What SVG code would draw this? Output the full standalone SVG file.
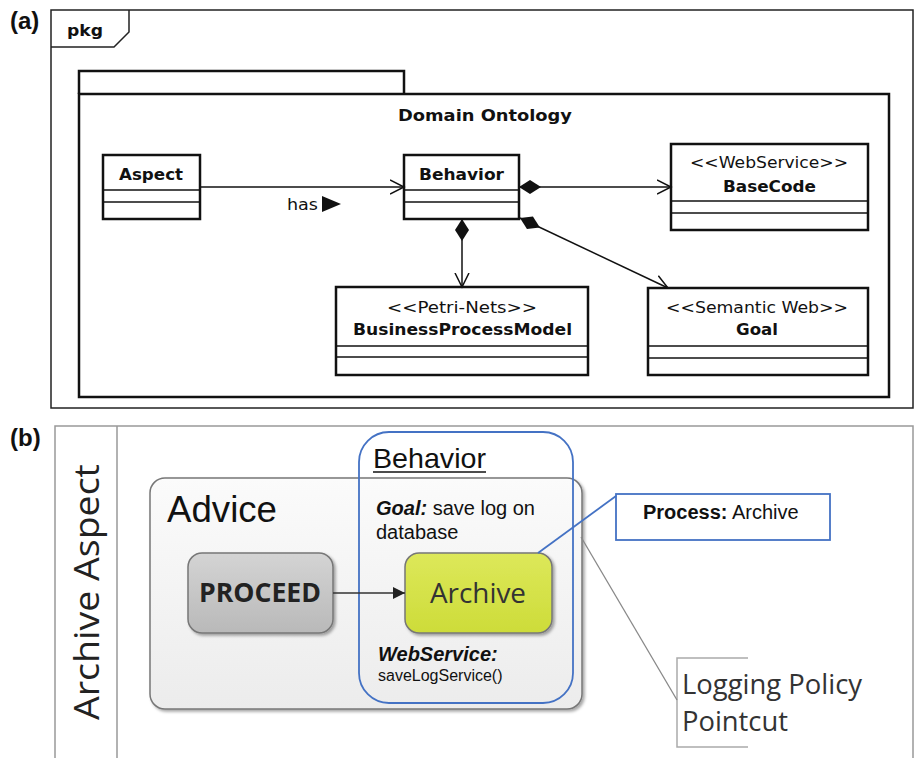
<svg xmlns="http://www.w3.org/2000/svg" width="916" height="758" viewBox="0 0 916 758">
  <defs>
    <style>
      .uml { font-family: "DejaVu Sans", "Liberation Sans", sans-serif; fill: #111; font-size: 16px; }
      .b { font-weight: bold; }
      .box { fill: #fff; stroke: #111; stroke-width: 2.5; }
      .div { stroke: #111; stroke-width: 1.5; }
      .conn { fill: none; stroke: #111; stroke-width: 1.5; }
      .frame { fill: none; stroke: #222; stroke-width: 1.5; }
      .arial { font-family: "Liberation Sans", Arial, sans-serif; fill: #111; }
      .cal { font-family: "Open Sans", "Liberation Sans", sans-serif; }
      .panel { font-family: "Liberation Sans", Arial, sans-serif; font-weight: bold; font-size: 24px; fill: #111; }
    </style>
    <marker id="open" markerWidth="16" markerHeight="16" refX="14" refY="8" orient="auto" markerUnits="userSpaceOnUse">
      <path d="M0,1 L14,8 L0,15" fill="none" stroke="#111" stroke-width="1.5"/>
    </marker>
    <marker id="diamond" markerWidth="24" markerHeight="16" refX="0" refY="8" orient="auto" markerUnits="userSpaceOnUse">
      <path d="M0,8 L11,1 L22,8 L11,15 Z" fill="#111"/>
    </marker>
    <marker id="solid" markerWidth="14" markerHeight="12" refX="12" refY="6" orient="auto" markerUnits="userSpaceOnUse">
      <path d="M0,0 L12,6 L0,12 Z" fill="#222"/>
    </marker>
    <linearGradient id="adviceFill" x1="0" y1="0" x2="0" y2="1">
      <stop offset="0" stop-color="#fbfbfb"/>
      <stop offset="1" stop-color="#ececec"/>
    </linearGradient>
    <linearGradient id="proceedFill" x1="0" y1="0" x2="0" y2="1">
      <stop offset="0" stop-color="#d4d4d4"/>
      <stop offset="1" stop-color="#b9b9b9"/>
    </linearGradient>
    <linearGradient id="archiveFill" x1="0" y1="0" x2="0" y2="1">
      <stop offset="0" stop-color="#dde85a"/>
      <stop offset="1" stop-color="#cddc39"/>
    </linearGradient>
    <filter id="shadow" x="-10%" y="-10%" width="125%" height="125%">
      <feDropShadow dx="2" dy="2" stdDeviation="1.5" flood-color="#000" flood-opacity="0.35"/>
    </filter>
  </defs>

  <rect width="916" height="758" fill="#fff"/>

  <!-- ===== Panel (a): UML package diagram ===== -->
  <text class="panel" x="10" y="29">(a)</text>
  <g id="pkg-frame">
    <rect class="frame" x="51" y="10" width="862" height="398"/>
    <path class="frame" d="M51,47 L114,47 L129,32 L129,10"/>
    <text class="uml b" x="67" y="36" font-size="15" textLength="36" lengthAdjust="spacingAndGlyphs">pkg</text>
  </g>

  <g id="domain-ontology">
    <path d="M79,94 L79,71 L404,71 L404,94" fill="none" stroke="#111" stroke-width="2.5"/>
    <rect x="79" y="94" width="810" height="303" fill="none" stroke="#111" stroke-width="2.5"/>
    <text class="uml b" x="398" y="121" textLength="174" lengthAdjust="spacingAndGlyphs">Domain Ontology</text>
  </g>

  <g id="aspect">
    <rect class="box" x="103" y="155" width="97" height="64"/>
    <line class="div" x1="103" y1="190" x2="200" y2="190"/>
    <line class="div" x1="103" y1="202" x2="200" y2="202"/>
    <text class="uml b" x="119" y="180" textLength="64" lengthAdjust="spacingAndGlyphs">Aspect</text>
  </g>

  <g id="behavior">
    <rect class="box" x="404" y="155" width="115" height="64"/>
    <line class="div" x1="404" y1="190" x2="519" y2="190"/>
    <line class="div" x1="404" y1="202" x2="519" y2="202"/>
    <text class="uml b" x="419" y="180" textLength="85" lengthAdjust="spacingAndGlyphs">Behavior</text>
  </g>

  <g id="basecode">
    <rect class="box" x="671" y="144" width="197" height="86"/>
    <line class="div" x1="671" y1="201" x2="868" y2="201"/>
    <line class="div" x1="671" y1="213" x2="868" y2="213"/>
    <text class="uml" x="690" y="168" textLength="158" lengthAdjust="spacingAndGlyphs">&lt;&lt;WebService&gt;&gt;</text>
    <text class="uml b" x="723" y="192" textLength="93" lengthAdjust="spacingAndGlyphs">BaseCode</text>
  </g>

  <g id="business-process-model">
    <rect class="box" x="336" y="287" width="252" height="88"/>
    <line class="div" x1="336" y1="346" x2="588" y2="346"/>
    <line class="div" x1="336" y1="357" x2="588" y2="357"/>
    <text class="uml" x="387" y="313" textLength="150" lengthAdjust="spacingAndGlyphs">&lt;&lt;Petri-Nets&gt;&gt;</text>
    <text class="uml b" x="353" y="335" textLength="219" lengthAdjust="spacingAndGlyphs">BusinessProcessModel</text>
  </g>

  <g id="goal">
    <rect class="box" x="648" y="288" width="220" height="87"/>
    <line class="div" x1="648" y1="346" x2="868" y2="346"/>
    <line class="div" x1="648" y1="358" x2="868" y2="358"/>
    <text class="uml" x="666" y="313" textLength="182" lengthAdjust="spacingAndGlyphs">&lt;&lt;Semantic Web&gt;&gt;</text>
    <text class="uml b" x="736" y="335" textLength="42" lengthAdjust="spacingAndGlyphs">Goal</text>
  </g>

  <g id="uml-connectors">
    <line class="conn" x1="200" y1="187" x2="404" y2="187" marker-end="url(#open)"/>
    <text class="uml" x="287" y="210" textLength="31" lengthAdjust="spacingAndGlyphs">has</text>
    <path d="M322,196 L341,204 L322,212 Z" fill="#111"/>
    <line class="conn" x1="519" y1="187" x2="671" y2="187" marker-start="url(#diamond)" marker-end="url(#open)"/>
    <line class="conn" x1="462" y1="219" x2="462" y2="287" marker-start="url(#diamond)" marker-end="url(#open)"/>
    <line class="conn" x1="520" y1="218" x2="668" y2="288" marker-start="url(#diamond)" marker-end="url(#open)"/>
  </g>

  <!-- ===== Panel (b): aspect weaving sketch ===== -->
  <text class="panel" x="10" y="446">(b)</text>
  <g id="archive-aspect">
    <path d="M55,758 L55,426 L913,426 L913,758" fill="none" stroke="#999" stroke-width="1.5"/>
    <line x1="117" y1="426" x2="117" y2="758" stroke="#999" stroke-width="1.5"/>
    <text class="cal" transform="translate(99,720) rotate(-90)" font-size="35" fill="#222" textLength="256" lengthAdjust="spacingAndGlyphs">Archive Aspect</text>
  </g>

  <g id="advice">
    <rect x="150" y="478" width="432" height="231" rx="15" fill="url(#adviceFill)" stroke="#777" stroke-width="1.5" filter="url(#shadow)"/>
    <text class="arial" x="167" y="522" font-size="36" textLength="110" lengthAdjust="spacingAndGlyphs">Advice</text>
  </g>

  <g id="behavior-region">
    <rect x="359" y="432" width="214" height="271" rx="30" fill="none" stroke="#4472c4" stroke-width="1.8"/>
    <text class="arial" x="373" y="468" font-size="28" textLength="113" lengthAdjust="spacingAndGlyphs">Behavior</text>
    <line x1="373" y1="472" x2="486" y2="472" stroke="#111" stroke-width="1.6"/>
    <text class="arial" x="376" y="515" font-size="20"><tspan font-weight="bold" font-style="italic">Goal:</tspan> save log on</text>
    <text class="arial" x="376" y="539" font-size="20">database</text>
    <text class="arial" x="378" y="661" font-size="20" font-weight="bold" font-style="italic">WebService:</text>
    <text class="arial" x="378" y="681" font-size="16">saveLogService()</text>
  </g>

  <g id="proceed">
    <rect x="188" y="553" width="145" height="80" rx="14" fill="url(#proceedFill)" stroke="#777" stroke-width="1.5" filter="url(#shadow)"/>
    <text class="cal" x="199" y="602" font-size="26" font-weight="bold" fill="#222" textLength="122" lengthAdjust="spacingAndGlyphs">PROCEED</text>
  </g>

  <g id="archive">
    <rect x="405" y="553" width="147" height="80" rx="14" fill="url(#archiveFill)" stroke="#777" stroke-width="1.5" filter="url(#shadow)"/>
    <text class="cal" x="430" y="603" font-size="28" fill="#333" textLength="96" lengthAdjust="spacingAndGlyphs">Archive</text>
  </g>

  <g id="process-note">
    <rect x="616" y="494" width="214" height="46" fill="#fff" stroke="#4472c4" stroke-width="1.8"/>
    <text class="arial" x="643" y="519" font-size="20"><tspan font-weight="bold">Process:</tspan> Archive</text>
  </g>

  <g id="logging-pointcut">
    <path d="M748,658 L677,658 L677,747 L748,747" fill="none" stroke="#aaa" stroke-width="1.5"/>
    <text class="cal" x="682" y="694" font-size="27" fill="#333" textLength="180" lengthAdjust="spacingAndGlyphs">Logging Policy</text>
    <text class="cal" x="682" y="731" font-size="27" fill="#333" textLength="106" lengthAdjust="spacingAndGlyphs">Pointcut</text>
  </g>

  <g id="sketch-connectors">
    <line x1="333" y1="593" x2="405" y2="593" stroke="#333" stroke-width="1.5" marker-end="url(#solid)"/>
    <line x1="538" y1="553" x2="616" y2="496" stroke="#4472c4" stroke-width="1.8"/>
    <line x1="581" y1="537" x2="677" y2="700" stroke="#888" stroke-width="1.3"/>
  </g>
</svg>
